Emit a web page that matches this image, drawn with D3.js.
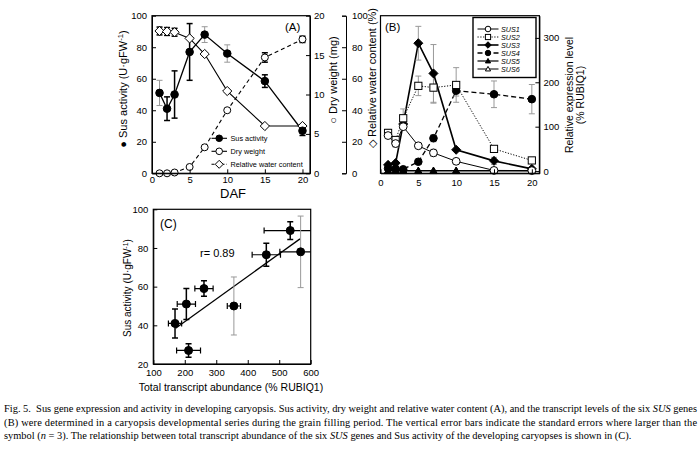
<!DOCTYPE html>
<html><head><meta charset="utf-8">
<script src="https://cdn.jsdelivr.net/npm/d3@7"></script>
<style>body{margin:0;background:#fff}svg{display:block}</style>
</head><body><svg id="c" width="700" height="465"></svg>
<script>
// ---------- data ----------
const daf = [1, 2, 3, 5, 7, 10, 15, 20];
const susActivity = [51, 41, 50, 77, 88, 76, 58.5, 27];
const susActivityErr = [8, 7.5, 15, 18, 5, 5.5, 4, 3];
const dryWeight = [0, 0, 0.1, 0.8, 3.3, 8, 14.7, 17];
const dryWeightErr = [0, 0, 0, 0, 0, 0, 0.6, 0.4];
const waterContent = [90.3, 90, 89.5, 85.6, 75.7, 52.2, 30, 30];
const waterContentErr = [2.5, 2.5, 2.5, 0, 0, 0, 0, 0];

const sus1 = [80, 62, 100, 57, 41, 22, 1.5, 1];
const sus1Err = [5, 8, 0, 0, 8, 0, 0, 0];
const sus2 = [86, 70, 119, 192, 188, 194, 50, 24];
const sus2Err = [8, 5, 21, 22, 35, 39, 0, 0];
const sus3 = [14, 18, 106, 288, 220, 48, 23, 5];
const sus3Err = [0, 0, 0, 38, 65, 0, 8, 0];
const sus4 = [6, 5, 4, 21, 74, 181, 173, 162];
const sus4Err = [0, 0, 0, 0, 8, 12, 30, 33];
const sus5 = [1, 1, 1, 1, 1, 1, 1, 1];
const sus6 = [0.5, 0.5, 0.5, 0.5, 0.5, 0.5, 0.5, 0.5];
const susNames = ["SUS1", "SUS2", "SUS3", "SUS4", "SUS5", "SUS6"];

const totalTranscript = [169, 212, 205, 261, 356, 459, 535, 568];
const totalTranscriptErr = [21, 38, 29, 29, 21, 45, 83, 66];
const cActivity = [41, 27, 51, 59, 50, 76.5, 89, 78];
const cActivityErr = [7.5, 3.5, 8, 4, 15, 6, 4.6, 18.5];

const ticksA_x = [0, 5, 10, 15, 20];
const ticksA_y = [0, 20, 40, 60, 80, 100];
const ticksDW = [0, 5, 10, 15, 20];
const ticksB_y = [0, 100, 200, 300];
const ticksC_x = [100, 200, 300, 400, 500, 600];
const ticksC_y = [20, 40, 60, 80, 100];

const captionLines = [
  [["Fig. 5.\u00A0 Sus gene expression and activity in developing caryopsis. Sus activity, dry weight and relative water content (A), and the transcript levels of the six ", false], ["SUS", true], [" genes", false]],
  [["(B) were determined in a caryopsis developmental series during the grain filling period. The vertical error bars indicate the standard errors where larger than the", false]],
  [["symbol (", false], ["n", true], [" = 3). The relationship between total transcript abundance of the six ", false], ["SUS", true], [" genes and Sus activity of the developing caryopses is shown in (C).", false]]
];

// ---------- helpers ----------
const SANS = "'Liberation Sans', Arial, Helvetica, sans-serif";
const SERIF = "'Liberation Serif', 'Times New Roman', serif";
const svg = d3.select("#c");
svg.append("rect").attr("width", 700).attr("height", 465).attr("fill", "#fff");

function marker(g, shape, filled, x, y, s) {
  let p;
  if (shape === "circle") p = g.append("circle").attr("cx", x).attr("cy", y).attr("r", s);
  else if (shape === "square") p = g.append("rect").attr("x", x - s).attr("y", y - s).attr("width", 2 * s).attr("height", 2 * s);
  else if (shape === "diamond") p = g.append("path").attr("d", `M${x},${y - s}L${x + s},${y}L${x},${y + s}L${x - s},${y}Z`);
  else p = g.append("path").attr("d", `M${x},${y - s}L${x + s},${y + s * 0.75}L${x - s},${y + s * 0.75}Z`);
  p.attr("fill", filled ? "#000" : "#fff").attr("stroke", "#000").attr("stroke-width", 1);
}
function errV(g, x, y0, y1, color, w) {
  g.append("line").attr("x1", x).attr("x2", x).attr("y1", y0).attr("y2", y1).attr("stroke", color).attr("stroke-width", w || 1.2);
  [y0, y1].forEach(y => g.append("line").attr("x1", x - 3).attr("x2", x + 3).attr("y1", y).attr("y2", y).attr("stroke", color).attr("stroke-width", w || 1.2));
}
function errH(g, y, x0, x1, color) {
  g.append("line").attr("x1", x0).attr("x2", x1).attr("y1", y).attr("y2", y).attr("stroke", color).attr("stroke-width", 1.2);
  [x0, x1].forEach(x => g.append("line").attr("x1", x).attr("x2", x).attr("y1", y - 3).attr("y2", y + 3).attr("stroke", color).attr("stroke-width", 1.2));
}
function styleAxis(sel, fs) {
  sel.selectAll("text").attr("font-family", SANS).attr("font-size", fs || 9.5).attr("fill", "#000");
  sel.selectAll("line").attr("stroke", "#000");
  sel.selectAll("path").attr("stroke", "#000");
}
function frame(x0, x1, y0, y1) {
  svg.append("rect").attr("x", x0).attr("y", y1).attr("width", x1 - x0).attr("height", y0 - y1)
    .attr("fill", "none").attr("stroke", "#000").attr("stroke-width", 1.2);
}
function vLabel(x, y, parts, fs) {
  const t = svg.append("text").attr("transform", `translate(${x},${y}) rotate(-90)`)
    .attr("text-anchor", "middle").attr("dy", "0.35em").attr("font-family", SANS).attr("font-size", fs);
  parts.forEach(p => {
    const ts = t.append("tspan").text(p[0]);
    if (p[1] === "sup") ts.attr("baseline-shift", "super").attr("font-size", fs * 0.7);
  });
  return t;
}
const grey = "#999";

// ---------- Panel A ----------
const xA = d3.scaleLinear().domain([0, 21]).range([152, 310]);
const yA = d3.scaleLinear().domain([0, 100]).range([173.3, 15.7]);
const yDW = d3.scaleLinear().domain([0, 20]).range([173.3, 15.7]);
const yRWC = d3.scaleLinear().domain([0, 100]).range([173.3, 15.7]);
const gA = svg.append("g");

styleAxis(svg.append("g").attr("transform", "translate(152,0)")
  .call(d3.axisLeft(yA).tickValues(ticksA_y).tickSizeInner(-4).tickSizeOuter(0).tickPadding(5)));
styleAxis(svg.append("g").attr("transform", "translate(0,173.3)")
  .call(d3.axisBottom(xA).tickValues(ticksA_x).tickSizeInner(-4).tickSizeOuter(0).tickPadding(3)));
styleAxis(svg.append("g").attr("transform", "translate(310,0)")
  .call(d3.axisRight(yDW).tickValues(ticksDW).tickSizeInner(-4).tickSizeOuter(0).tickPadding(4)));
styleAxis(svg.append("g").attr("transform", "translate(346,0)")
  .call(d3.axisRight(yRWC).tickValues(ticksA_y).tickSizeInner(-4).tickSizeOuter(-4).tickPadding(6)));
frame(152, 310, 173.3, 15.7);

const lineA = (ys, sc) => d3.line().x((d, i) => xA(daf[i])).y(d => sc(d))(ys);
gA.append("path").attr("d", lineA(dryWeight, yDW)).attr("fill", "none").attr("stroke", "#000").attr("stroke-width", 1.1).attr("stroke-dasharray", "4,3");
gA.append("path").attr("d", lineA(waterContent, yRWC)).attr("fill", "none").attr("stroke", "#000").attr("stroke-width", 1.1);
gA.append("path").attr("d", lineA(susActivity, yA)).attr("fill", "none").attr("stroke", "#000").attr("stroke-width", 1.3);
const greyA = [0, 4, 5];
daf.forEach((d, i) => {
  if (susActivityErr[i] > 0) errV(gA, xA(d), yA(susActivity[i] - susActivityErr[i]), yA(susActivity[i] + susActivityErr[i]), greyA.includes(i) ? grey : "#000", greyA.includes(i) ? 1 : 1.5);
  if (dryWeightErr[i] > 0) errV(gA, xA(d), yDW(dryWeight[i] - dryWeightErr[i]), yDW(dryWeight[i] + dryWeightErr[i]), "#000", 1.5);
  if (waterContentErr[i] > 0) errV(gA, xA(d), yRWC(waterContent[i] - waterContentErr[i]), yRWC(waterContent[i] + waterContentErr[i]), "#000", 1.5);
});
daf.forEach((d, i) => marker(gA, "diamond", false, xA(d), yRWC(waterContent[i]), 4.6));
daf.forEach((d, i) => marker(gA, "circle", false, xA(d), yDW(dryWeight[i]), 3.5));
daf.forEach((d, i) => marker(gA, "circle", true, xA(d), yA(susActivity[i]), 3.8));

// legend A
const legA = [["Sus activity", "circle", true, null], ["Dry weight", "circle", false, null], ["Relative water content", "diamond", false, "3,2"]];
legA.forEach((l, i) => {
  const y = 138.3 + i * 13;
  const ln = gA.append("line").attr("x1", 211.5).attr("x2", 227).attr("y1", y).attr("y2", y).attr("stroke", "#000").attr("stroke-width", 1.1);
  if (l[3]) ln.attr("stroke-dasharray", l[3]);
  marker(gA, l[1], l[2], 219.2, y, l[1] === "diamond" ? 4 : 3.3);
  gA.append("text").attr("x", 230.5).attr("y", y).attr("dy", "0.35em").attr("font-family", SANS).attr("font-size", 7.3).text(l[0]);
});
svg.append("text").attr("x", 285).attr("y", 31).attr("font-family", SANS).attr("font-size", 11.5).text("(A)");
svg.append("text").attr("x", 233).attr("y", 198).attr("text-anchor", "middle").attr("font-family", SANS).attr("font-size", 13).text("DAF");
vLabel(123, 89, [["\u25CF Sus activity (U\u00B7gFW"], ["-1", "sup"], [")"]], 11);
vLabel(333, 80, [["\u25CB Dry weight (mg)"]], 11);
vLabel(372, 78, [["\u25C7 Relative water content (%)"]], 11);

// ---------- Panel B ----------
const xB = d3.scaleLinear().domain([0, 21]).range([380.5, 539.4]);
const yB = d3.scaleLinear().domain([-5, 350]).range([173.3, 15.7]);
const gB = svg.append("g");
styleAxis(svg.append("g").attr("transform", "translate(0,173.3)")
  .call(d3.axisBottom(xB).tickValues(ticksA_x).tickSizeInner(-4).tickSizeOuter(0).tickPadding(5.5)));
styleAxis(svg.append("g").attr("transform", "translate(539.4,0)")
  .call(d3.axisRight(yB).tickValues(ticksB_y).tickSizeInner(-4).tickSizeOuter(0).tickPadding(4)));
frame(380.5, 539.4, 173.3, 15.7);

const seriesB = [
  { v: sus6, e: null, shape: "triangle", filled: false, dash: null, w: 1, s: 3.6 },
  { v: sus5, e: null, shape: "triangle", filled: true, dash: null, w: 1.2, s: 3.6 },
  { v: sus4, e: sus4Err, shape: "circle", filled: true, dash: "5,3", w: 1.3, s: 3.8 },
  { v: sus3, e: sus3Err, shape: "diamond", filled: true, dash: null, w: 1.6, s: 4.5 },
  { v: sus2, e: sus2Err, shape: "square", filled: false, dash: "1.2,1.6", w: 1, s: 3.6 },
  { v: sus1, e: sus1Err, shape: "circle", filled: false, dash: null, w: 1, s: 3.9 }
];
const lineB = ys => d3.line().x((d, i) => xB(daf[i])).y(d => yB(d))(ys);
seriesB.forEach(s => {
  const p = gB.append("path").attr("d", lineB(s.v)).attr("fill", "none").attr("stroke", "#000").attr("stroke-width", s.w);
  if (s.dash) p.attr("stroke-dasharray", s.dash);
});
seriesB.forEach(s => {
  if (!s.e) return;
  daf.forEach((d, i) => { if (s.e[i] > 0) errV(gB, xB(d), yB(s.v[i] - s.e[i]), yB(s.v[i] + s.e[i]), grey, 1); });
});
seriesB.forEach(s => daf.forEach((d, i) => marker(gB, s.shape, s.filled, xB(d), yB(s.v[i]), s.s)));

// legend B
gB.append("rect").attr("x", 473).attr("y", 17.5).attr("width", 63).attr("height", 60).attr("fill", "#fff").attr("stroke", "#000").attr("stroke-width", 1.4);
const legB = seriesB.slice().reverse();
legB.forEach((s, i) => {
  const y = 29 + i * 8;
  const ln = gB.append("line").attr("x1", 477.5).attr("x2", 498.5).attr("y1", y).attr("y2", y).attr("stroke", "#000").attr("stroke-width", s.w);
  if (s.dash) ln.attr("stroke-dasharray", s.dash);
  marker(gB, s.shape, s.filled, 488, y, s.s * 0.72);
  gB.append("text").attr("x", 501).attr("y", y).attr("dy", "0.35em").attr("font-family", SANS).attr("font-style", "italic").attr("font-size", 7.2).text(susNames[i]);
});
svg.append("text").attr("x", 385).attr("y", 31).attr("font-family", SANS).attr("font-size", 11.5).text("(B)");
vLabel(569, 95, [["Relative expression level"]], 10.5);
vLabel(580, 95, [["(% RUBIQ1)"]], 10.5);

// ---------- Panel C ----------
const xC = d3.scaleLinear().domain([100, 600]).range([153.3, 310.7]);
const yC = d3.scaleLinear().domain([20, 100]).range([364, 209.3]);
styleAxis(svg.append("g").attr("transform", "translate(153.3,0)")
  .call(d3.axisLeft(yC).tickValues(ticksC_y).tickSizeInner(-4).tickSizeOuter(0).tickPadding(5)));
styleAxis(svg.append("g").attr("transform", "translate(0,364)")
  .call(d3.axisBottom(xC).tickValues(ticksC_x).tickSizeInner(-4).tickSizeOuter(0).tickPadding(5)));
svg.append("clipPath").attr("id", "clipC").append("rect").attr("x", 153.3).attr("y", 209.3).attr("width", 157.4).attr("height", 154.7);
const gC = svg.append("g").attr("clip-path", "url(#clipC)");
// regression
const mx = d3.mean(totalTranscript), my = d3.mean(cActivity);
const slope = d3.sum(totalTranscript, (x, i) => (x - mx) * (cActivity[i] - my)) / d3.sum(totalTranscript, x => (x - mx) * (x - mx));
const ext = d3.extent(totalTranscript);
gC.append("line").attr("x1", xC(ext[0] + 2)).attr("x2", xC(ext[1] - 2))
  .attr("y1", yC(my + slope * (ext[0] + 2 - mx))).attr("y2", yC(my + slope * (ext[1] - 2 - mx)))
  .attr("stroke", "#000").attr("stroke-width", 1.3);
const greyC = [4, 7];
totalTranscript.forEach((x, i) => {
  errH(gC, yC(cActivity[i]), xC(x - totalTranscriptErr[i]), xC(x + totalTranscriptErr[i]), "#000");
  errV(gC, xC(x), yC(cActivity[i] - cActivityErr[i]), yC(cActivity[i] + cActivityErr[i]), greyC.includes(i) ? grey : "#000", greyC.includes(i) ? 1 : 1.5);
});
totalTranscript.forEach((x, i) => marker(gC, "circle", true, xC(x), yC(cActivity[i]), 4));
frame(153.3, 310.7, 364, 209.3);
svg.append("text").attr("x", 160).attr("y", 228).attr("font-family", SANS).attr("font-size", 12).text("(C)");
svg.append("text").attr("x", 200).attr("y", 257).attr("font-family", SANS).attr("font-size", 11).text("r= 0.89");
vLabel(127, 288, [["Sus activity (U\u00B7gFW"], ["-1", "sup"], [")"]], 10);
svg.append("text").attr("x", 231).attr("y", 391).attr("text-anchor", "middle").attr("font-family", SANS).attr("font-size", 10.5).text("Total transcript abundance (% RUBIQ1)");

// ---------- Caption ----------
const capY = [412.3, 425.7, 439];
const capTexts = captionLines.map((parts, li) => {
  const t = svg.append("text").attr("x", 4).attr("y", capY[li]).attr("font-family", SERIF).attr("font-size", 10);
  parts.forEach(p => { const ts = t.append("tspan").text(p[0]); if (p[1]) ts.attr("font-style", "italic"); });
  return t;
});
const w1 = capTexts[0].node().getComputedTextLength();
const capFs = 10 * 693 / w1;
capTexts.forEach((t, i) => {
  t.attr("font-size", capFs);
  if (i < 2) t.attr("textLength", 693).attr("lengthAdjust", "spacing");
});
</script></body></html>
